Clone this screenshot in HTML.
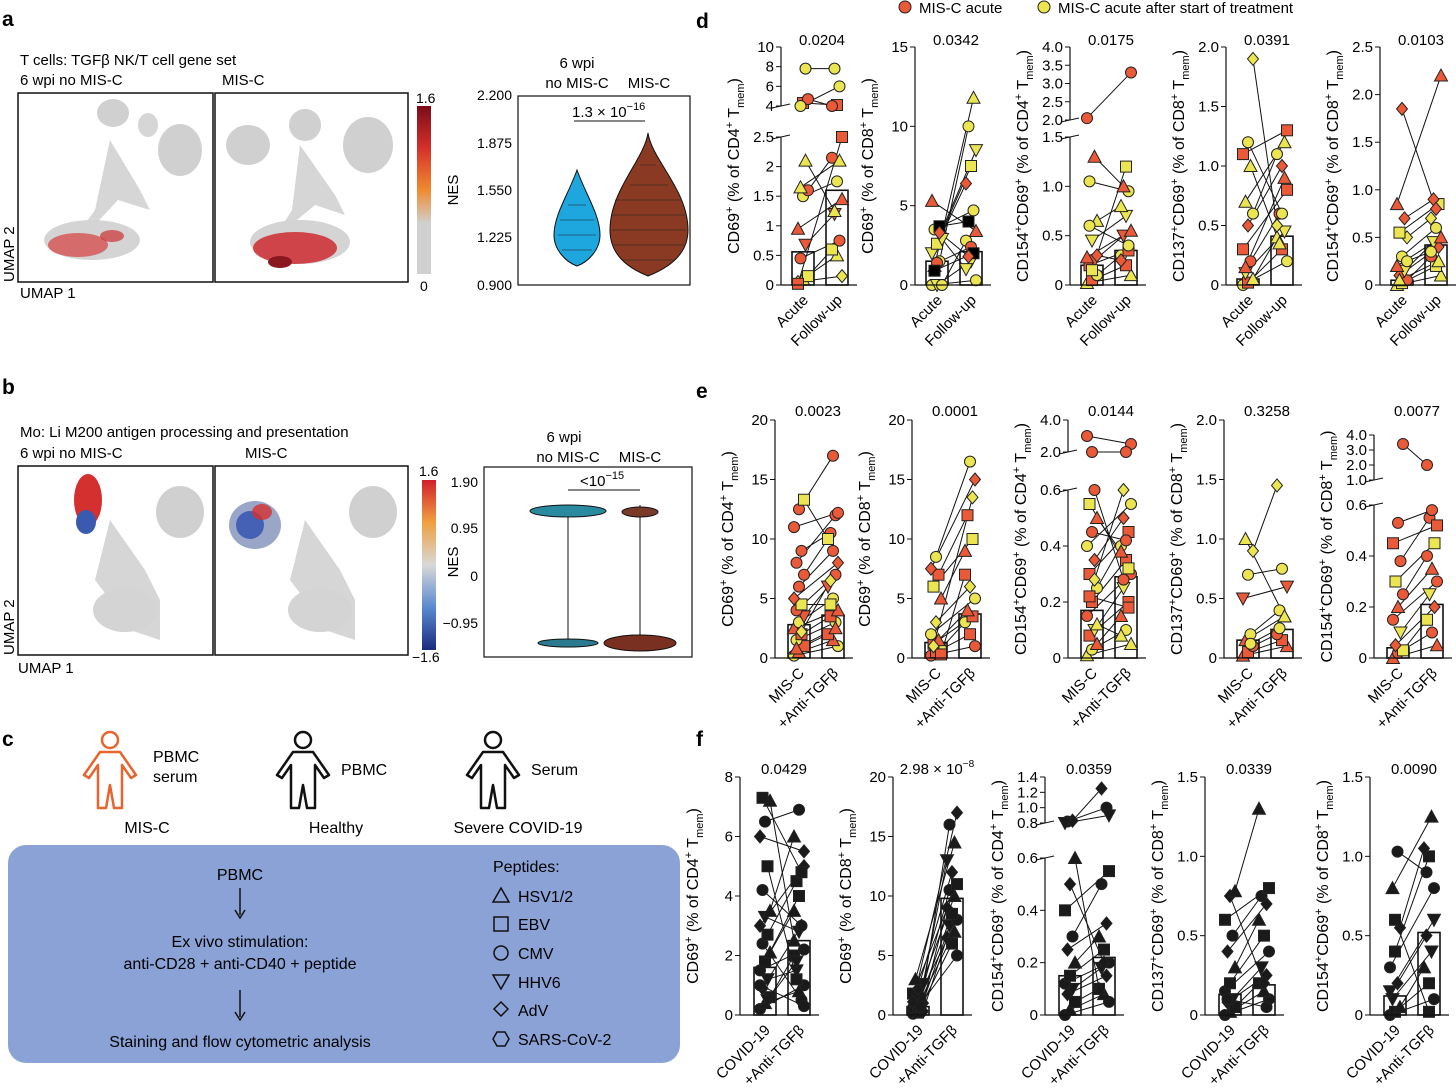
<!DOCTYPE html>
<html><head><meta charset="utf-8"><style>
html,body{margin:0;padding:0;background:#fff;}
svg{display:block;font-family:"Liberation Sans",Arial,sans-serif;}
</style></head><body>
<svg id="fig" width="1456" height="1091" viewBox="0 0 1456 1091" xmlns="http://www.w3.org/2000/svg">
<g id="static">
<text x="2" y="26" font-size="21" font-weight="bold">a</text>
<text x="2" y="394" font-size="21" font-weight="bold">b</text>
<text x="2" y="746" font-size="21" font-weight="bold">c</text>
<text x="696" y="28" font-size="21" font-weight="bold">d</text>
<text x="696" y="398" font-size="21" font-weight="bold">e</text>
<text x="696" y="746" font-size="21" font-weight="bold">f</text>

<g font-size="15">
<circle cx="905" cy="7" r="6" fill="#ea5a38" stroke="#222"/>
<text x="919" y="13">MIS-C acute</text>
<circle cx="1044" cy="7" r="6" fill="#ece552" stroke="#222"/>
<text x="1058" y="13">MIS-C acute after start of treatment</text>
</g>

<text x="20" y="65" font-size="15">T cells: TGFβ NK/T cell gene set</text>
<text x="20" y="85" font-size="15">6 wpi no MIS-C</text>
<text x="222" y="85" font-size="15">MIS-C</text>
<g>
<rect x="18" y="93" width="195" height="189" fill="#fff" stroke="#111" stroke-width="1.5"/>
<ellipse cx="113" cy="113" rx="16" ry="14" fill="#d0d0d0"/>
<ellipse cx="180" cy="150" rx="22" ry="26" fill="#d0d0d0"/>
<ellipse cx="148" cy="125" rx="10" ry="12" fill="#d6d6d6"/>
<path d="M110 140 L140 190 L150 210 L118 200 L90 230 L70 245 L95 210 Z" fill="#d6d6d6"/>
<ellipse cx="92" cy="240" rx="48" ry="20" fill="#d4d4d4"/>
<ellipse cx="78" cy="245" rx="30" ry="12" fill="#d45050" opacity="0.8"/>
<ellipse cx="112" cy="236" rx="12" ry="6" fill="#cc3030" opacity="0.7"/>
</g>
<g>
<rect x="215" y="93" width="193" height="189" fill="#fff" stroke="#111" stroke-width="1.5"/>
<ellipse cx="248" cy="145" rx="22" ry="20" fill="#d0d0d0"/>
<ellipse cx="305" cy="125" rx="16" ry="16" fill="#d0d0d0"/>
<ellipse cx="368" cy="145" rx="25" ry="28" fill="#d0d0d0"/>
<path d="M300 145 L335 195 L345 215 L315 205 L285 230 L270 245 L292 210 Z" fill="#d6d6d6"/>
<ellipse cx="300" cy="242" rx="50" ry="22" fill="#d4d4d4"/>
<ellipse cx="295" cy="248" rx="42" ry="16" fill="#cc2a30" opacity="0.85"/>
<ellipse cx="280" cy="262" rx="12" ry="6" fill="#8a1620"/>
</g>
<text x="14" y="282" font-size="15" transform="rotate(-90 14 282)">UMAP 2</text>
<text x="20" y="298" font-size="15">UMAP 1</text>
<defs>
<linearGradient id="cbA" x1="0" y1="0" x2="0" y2="1">
<stop offset="0" stop-color="#7a0c1a"/><stop offset="0.25" stop-color="#d6302a"/><stop offset="0.5" stop-color="#f08a30"/><stop offset="0.7" stop-color="#d0d0d0"/><stop offset="1" stop-color="#d0d0d0"/>
</linearGradient>
<linearGradient id="cbB" x1="0" y1="0" x2="0" y2="1">
<stop offset="0" stop-color="#d0202a"/><stop offset="0.25" stop-color="#f0a040"/><stop offset="0.5" stop-color="#d8d8d8"/><stop offset="0.75" stop-color="#5a8ad0"/><stop offset="1" stop-color="#1a2a80"/>
</linearGradient>
</defs>
<rect x="417" y="106" width="14" height="168" fill="url(#cbA)"/>
<text x="416" y="103" font-size="14">1.6</text>
<text x="420" y="291" font-size="14">0</text>

<g font-size="14">
<text x="577" y="68" font-size="15" text-anchor="middle">6 wpi</text>
<text x="577" y="88" font-size="15" text-anchor="middle">no MIS-C</text>
<text x="649" y="88" font-size="15" text-anchor="middle">MIS-C</text>
<rect x="518" y="96" width="172" height="189" fill="none" stroke="#111" stroke-width="1.2"/>
<text x="512" y="100" text-anchor="end">2.200</text>
<text x="512" y="148" text-anchor="end">1.875</text>
<text x="512" y="195" text-anchor="end">1.550</text>
<text x="512" y="242" text-anchor="end">1.225</text>
<text x="512" y="290" text-anchor="end">0.900</text>
<text x="458" y="190" font-size="15" transform="rotate(-90 458 190)" text-anchor="middle">NES</text>
<line x1="574" y1="121" x2="645" y2="121" stroke="#111"/>
<text x="572" y="117" font-size="15">1.3 × 10<tspan font-size="11" dy="-7">−16</tspan></text>
<path d="M577 170 C586 195 600 215 600 235 C600 250 588 262 577 266 C566 262 554 250 554 235 C554 215 568 195 577 170 Z" fill="#1ea6df" stroke="#111"/>
<path d="M648 133 C652 160 688 190 688 230 C688 255 668 268 648 276 C628 268 610 255 610 230 C610 190 644 160 648 133 Z" fill="#8a3a22" stroke="#111"/>
<g stroke="#222" stroke-width="0.7" opacity="0.7">
<line x1="560" y1="220" x2="594" y2="220"/><line x1="558" y1="235" x2="596" y2="235"/><line x1="562" y1="250" x2="592" y2="250"/><line x1="568" y1="205" x2="586" y2="205"/>
<line x1="615" y1="200" x2="682" y2="200"/><line x1="612" y1="215" x2="685" y2="215"/><line x1="612" y1="230" x2="686" y2="230"/><line x1="614" y1="245" x2="684" y2="245"/><line x1="622" y1="260" x2="675" y2="260"/><line x1="630" y1="185" x2="668" y2="185"/><line x1="640" y1="165" x2="656" y2="165"/>
</g>
</g>

<text x="20" y="437" font-size="15">Mo: Li M200 antigen processing and presentation</text>
<text x="20" y="458" font-size="15">6 wpi no MIS-C</text>
<text x="245" y="458" font-size="15">MIS-C</text>
<g>
<rect x="18" y="466" width="195" height="189" fill="#fff" stroke="#111" stroke-width="1.5"/>
<ellipse cx="180" cy="512" rx="24" ry="26" fill="#d0d0d0"/>
<path d="M110 520 L145 570 L160 600 L160 640 L130 630 L110 600 L95 580 Z" fill="#d6d6d6"/>
<ellipse cx="125" cy="610" rx="32" ry="22" fill="#d4d4d4"/>
<ellipse cx="88" cy="500" rx="14" ry="26" fill="#d43030"/>
<ellipse cx="86" cy="522" rx="10" ry="12" fill="#3a5ab0"/>
</g>
<g>
<rect x="215" y="466" width="193" height="189" fill="#fff" stroke="#111" stroke-width="1.5"/>
<ellipse cx="373" cy="512" rx="24" ry="26" fill="#d0d0d0"/>
<path d="M305 520 L340 570 L355 600 L355 640 L325 630 L305 600 L290 580 Z" fill="#d6d6d6"/>
<ellipse cx="320" cy="610" rx="32" ry="22" fill="#d4d4d4"/>
<ellipse cx="255" cy="525" rx="26" ry="24" fill="#9aa6c8"/>
<ellipse cx="250" cy="525" rx="14" ry="14" fill="#3050b0" opacity="0.8"/>
<ellipse cx="262" cy="512" rx="10" ry="8" fill="#d43030" opacity="0.8"/>
</g>
<text x="14" y="655" font-size="15" transform="rotate(-90 14 655)">UMAP 2</text>
<text x="18" y="673" font-size="15">UMAP 1</text>
<rect x="422" y="480" width="14" height="170" fill="url(#cbB)"/>
<text x="419" y="476" font-size="14">1.6</text>
<text x="412" y="662" font-size="14">−1.6</text>

<g font-size="14">
<text x="564" y="442" font-size="15" text-anchor="middle">6 wpi</text>
<text x="568" y="462" font-size="15" text-anchor="middle">no MIS-C</text>
<text x="640" y="462" font-size="15" text-anchor="middle">MIS-C</text>
<rect x="484" y="467" width="208" height="190" fill="none" stroke="#111" stroke-width="1.2"/>
<text x="478" y="487" text-anchor="end">1.90</text>
<text x="478" y="533" text-anchor="end">0.95</text>
<text x="478" y="581" text-anchor="end">0</text>
<text x="478" y="628" text-anchor="end">−0.95</text>
<text x="458" y="562" font-size="15" transform="rotate(-90 458 562)" text-anchor="middle">NES</text>
<line x1="568" y1="490" x2="640" y2="490" stroke="#111"/>
<text x="580" y="486" font-size="15">&lt;10<tspan font-size="11" dy="-7">−15</tspan></text>
<line x1="568" y1="505" x2="568" y2="645" stroke="#111"/>
<line x1="640" y1="505" x2="640" y2="645" stroke="#111"/>
<ellipse cx="568" cy="511" rx="38" ry="6" fill="#2a8aa0" stroke="#111"/>
<ellipse cx="640" cy="512" rx="18" ry="5" fill="#7a3a2a" stroke="#111"/>
<ellipse cx="568" cy="643" rx="30" ry="4" fill="#2a7a90" stroke="#111"/>
<ellipse cx="640" cy="643" rx="36" ry="8" fill="#7a3020" stroke="#111"/>
</g>

<g font-size="16">
<g fill="none" stroke="#e8642e" stroke-width="2.5" stroke-linejoin="round">
<circle cx="110" cy="740" r="8"/>
<path d="M100 752 L120 752 L136 775 L131 778 L122 765 L122 808 L114 808 L110 785 L106 808 L98 808 L98 765 L89 778 L84 775 Z"/></g>
<g fill="none" stroke="#111" stroke-width="2.5" stroke-linejoin="round">
<circle cx="303" cy="740" r="8"/>
<path d="M293 752 L313 752 L329 775 L324 778 L315 765 L315 808 L307 808 L303 785 L299 808 L291 808 L291 765 L282 778 L277 775 Z"/></g>
<g fill="none" stroke="#111" stroke-width="2.5" stroke-linejoin="round">
<circle cx="493" cy="740" r="8"/>
<path d="M483 752 L503 752 L519 775 L514 778 L505 765 L505 808 L497 808 L493 785 L489 808 L481 808 L481 765 L472 778 L467 775 Z"/></g>
<text x="153" y="762">PBMC</text><text x="153" y="782">serum</text>
<text x="341" y="775">PBMC</text>
<text x="531" y="775">Serum</text>
<text x="147" y="833" text-anchor="middle">MIS-C</text>
<text x="336" y="833" text-anchor="middle">Healthy</text>
<text x="518" y="833" text-anchor="middle">Severe COVID-19</text>
<rect x="8" y="845" width="672" height="218" rx="18" fill="#8aa2d6"/>
<text x="240" y="880" text-anchor="middle">PBMC</text>
<line x1="240" y1="888" x2="240" y2="915" stroke="#111" stroke-width="1.5"/><path d="M235 910 L240 918 L245 910" fill="none" stroke="#111" stroke-width="1.5"/>
<text x="240" y="947" text-anchor="middle">Ex vivo stimulation:</text>
<text x="240" y="969" text-anchor="middle">anti-CD28 + anti-CD40 + peptide</text>
<line x1="240" y1="990" x2="240" y2="1017" stroke="#111" stroke-width="1.5"/><path d="M235 1012 L240 1020 L245 1012" fill="none" stroke="#111" stroke-width="1.5"/>
<text x="240" y="1047" text-anchor="middle">Staining and flow cytometric analysis</text>
<text x="493" y="872">Peptides:</text>
<path d="M501 888 L509 902 L493 902 Z" fill="none" stroke="#111" stroke-width="1.5"/><text x="518" y="902">HSV1/2</text>
<rect x="494" y="917" width="14" height="14" fill="none" stroke="#111" stroke-width="1.5"/><text x="518" y="930">EBV</text>
<circle cx="501" cy="953" r="7" fill="none" stroke="#111" stroke-width="1.5"/><text x="518" y="959">CMV</text>
<path d="M493 975 L509 975 L501 989 Z" fill="none" stroke="#111" stroke-width="1.5"/><text x="518" y="988">HHV6</text>
<path d="M501 1002 L508 1009 L501 1016 L494 1009 Z" fill="none" stroke="#111" stroke-width="1.5"/><text x="518" y="1016">AdV</text>
<path d="M497 1032 L505 1032 L509 1039 L505 1046 L497 1046 L493 1039 Z" fill="none" stroke="#111" stroke-width="1.5"/><text x="518" y="1045">SARS-CoV-2</text>
</g>
</g>
<g id="plots"></g>
</svg>
<script>
const d1A=[0.05,0.1,0.15,0.45,0.68,0.95,1.5,1.6,1.65,2.1,0.02,4.3,4.7,3.2,7.8];
const d1B=[0.15,0.5,0.6,0.75,1.2,1.45,1.75,2.15,2.1,1.25,2.5,4.1,3.3,6.0,7.8];
const d1S="dtscvtccttssccc", d1C="yyyrrryryyrrryy", d1M=[0.56,1.6];
const d2A=[0,0,0,1.2,1.5,2.0,2.6,3.2,3.5,3.7,5.3,1.4,2.9,0.9,3.3];
const d2B=[0.3,1.5,2.8,11.8,10,8.5,7.5,6.4,4.7,4.0,3.4,2.4,1.0,2.0,1.8];
const d2S="cvctcvsdcstcvsd", d2C="yyyyyyyrytrrycr", d2M=[1.5,2.1];
const d3A=[0.02,0.05,0.1,0.2,0.25,0.28,0.45,0.65,1.05,1.3,2.05,0.15,0.3,0.6];
const d3B=[0.1,0.2,0.3,0.35,0.5,0.55,0.7,0.8,0.95,1.0,3.3,1.2,0.25,0.4];
const d3S="tscsvtvtctcsdc", d3C="yryrrryyyrryry", d3M=[0.2,0.35];
const d4A=[0,0.02,0.05,0.1,0.2,0.3,0.5,0.6,0.7,1.0,1.1,1.2,1.9,0.15];
const d4B=[0.2,0.3,0.4,0.45,0.6,0.8,1.0,1.1,1.2,0.35,1.3,0.6,0.5,0.9];
const d4S="cstvcsdcttscdt", d4C="yryyrrryyyryyr", d4M=[0.05,0.41];
const d5A=[0,0.02,0.05,0.1,0.15,0.2,0.3,0.5,0.55,0.7,0.85,1.85,0.25,0.05];
const d5B=[0.1,0.2,0.3,0.4,0.45,0.5,0.6,0.7,0.85,0.9,2.2,0.8,0.35,0.25];
const d5S="tscdvtcdsdtdct", d5C="yyrryryyyrrryy", d5M=[0.05,0.42];
const e1A=[0.2,0.5,1,1.5,2,2.5,3,3.5,4,4.5,5,6,7,8,9,11,12.5,13.3,0.8,2.2];
const e1B=[1,1.5,2,3,3.5,4,5,6,7,4.5,8,9,10,12,10.5,12.2,17,10,2.5,6.5];
const e1S="ctscstcvcsdccccccstd", e1C="yrryrryrryrrrrrrryry", e1M=[2.8,3.6];
const e2A=[0.2,0.5,0.8,1.2,1.5,2,3,5,6,7,7.5,8.5,0.3,1];
const e2B=[1,2,3,3.5,4,5,6,9,10,12,15,16.5,7,13.5];
const e2S="cscstcdtssdcsd", e2C="rryrryyryrryry", e2M=[1.3,3.7];
const e3A=[0.01,0.03,0.05,0.08,0.1,0.15,0.2,0.25,0.3,0.35,0.4,0.45,0.5,0.55,0.6,3.0,1.3,0.12,0.22,0.28];
const e3B=[0.05,0.1,0.15,0.2,0.25,0.3,0.35,0.4,0.45,0.5,0.55,0.42,0.38,0.32,0.28,2.5,1.35,0.08,0.18,0.6];
const e3S="tctsvcscsdcctsccctsd", e3C="yyrryrryrryrryrrryry", e3M=[0.17,0.29];
const e4A=[0.02,0.05,0.1,0.15,0.2,0.5,0.7,0.9,1.0,0.12];
const e4B=[0.1,0.15,0.2,0.35,0.4,0.6,0.75,1.45,0.35,0.25];
const e4S="tsctcvcdtc", e4C="rrrryryyyy", e4M=[0.15,0.24];
const e5A=[0,0.02,0.03,0.05,0.1,0.15,0.2,0.25,0.3,0.38,0.45,0.53,3.4];
const e5B=[0.05,0.1,0.15,0.2,0.25,0.3,0.35,0.4,0.45,0.55,0.52,0.58,2.0];
const e5S="tcsdvctcscscc", e5C="rryryrrryrrrr", e5M=[0.04,0.21];
const f1A=[0.2,0.4,0.6,0.9,1.2,1.5,1.8,2.1,2.4,2.7,3.0,3.3,3.5,4.2,5.0,6.0,6.5,7.2,7.3,0.5,1.0];
const f1B=[1.0,0.8,2.0,3.0,1.5,2.2,4.0,3.5,0.5,4.5,5.0,2.8,6.0,3.0,1.2,5.5,6.9,2.5,4.8,1.8,0.3];
const f1S="ctsdvcstcsdvtcsdctsvc", f1C="kkkkkkkkkkkkkkkkkkkkk", f1M=[1.6,2.5];
const f2A=[0.1,0.2,0.3,0.4,0.5,0.6,0.8,1.0,1.2,1.5,1.8,2.2,2.6,3.0,0.7,1.1];
const f2B=[5,6,6.5,7,7.5,8,8.5,9,10,10.5,11,12,13,14.5,16,17];
const f2S="csdtvcsdtcsdvtcd", f2C="kkkkkkkkkkkkkkkk", f2M=[0.7,9.8];
const f3A=[0,0.02,0.05,0.08,0.1,0.12,0.15,0.2,0.25,0.3,0.4,0.5,0.6,0.82,0.83,0.78];
const f3B=[0.05,0.08,0.1,0.15,0.18,0.2,0.25,0.3,0.35,0.5,0.55,0.2,0.1,1.0,1.25,0.9];
const f3S="ctsdvcstdcsdtcdv", f3C="kkkkkkkkkkkkkkkk", f3M=[0.15,0.22];
const f4A=[0,0.02,0.05,0.08,0.1,0.15,0.2,0.3,0.4,0.5,0.6,0.75,0.78,0.1];
const f4B=[0.1,0.15,0.2,0.25,0.3,0.4,0.5,0.6,0.7,0.75,0.8,0.2,1.3,0.05];
const f4S="ctsdvcstdcsdtc", f4C="kkkkkkkkkkkkkk", f4M=[0.13,0.19];
const f5A=[0,0.02,0.05,0.1,0.2,0.3,0.4,0.55,0.8,1.03,0.15,0.6];
const f5B=[0.1,0.2,0.3,0.4,0.5,0.8,1.0,1.05,1.25,0.9,0.6,0.02];
const f5S="cstvdcsdtcvs", f5C="kkkkkkkkkkkk", f5M=[0.12,0.52];
const dPvals=["0.0204","0.0342","0.0175","0.0391","0.0103"];
const ePvals=["0.0023","0.0001","0.0144","0.3258","0.0077"];
const fPvals=["0.0429","2.98 × 10<tspan font-size='10' dy='-7'>−8</tspan>","0.0359","0.0339","0.0090"];
const dXlab=["Acute","Follow-up"], eXlab=["MIS-C","+Anti-TGFβ"], fXlab=["COVID-19","+Anti-TGFβ"];
const tk1=[0,0.5,1,1.5,2,2.5,4,6,8,10], tk2=[0,5,10,15], tk3=[0,0.5,1,1.5,2,2.5,3,3.5,4], tk4=[0,0.5,1,1.5,2], tk5=[0,0.5,1,1.5,2,2.5];
const tkE1=[0,5,10,15,20], tkE3=[0,0.2,0.4,0.6,2,4], tkE5=[0,0.2,0.4,0.6,1,2,3,4];
const tkF1=[0,2,4,6,8], tkF2=[0,5,10,15,20], tkF3=[0,0.2,0.4,0.6,0.8,1,1.2,1.4], tkF4=[0,0.5,1,1.5];

const COL={r:"#ea5a38",y:"#ece552",k:"#1a1a1a"};
const NS="http://www.w3.org/2000/svg";
const root=document.getElementById('plots');
function el(tag,attrs,parent){const e=document.createElementNS(NS,tag);for(const k in attrs)e.setAttribute(k,attrs[k]);(parent||root).appendChild(e);return e;}
function fmt(v,dec){return dec?v.toFixed(dec):String(v);}
function sup(t){return "<tspan font-size='11' dy='-6'>"+t+"</tspan><tspan dy='6'>\u200b</tspan>";}
function sub(t){return "<tspan font-size='11' dy='5'>"+t+"</tspan><tspan dy='-5'>\u200b</tspan>";}
function ylab(a,b){return a+" (% of "+b+sup("+")+" T"+sub("mem")+")";}

function marker(g,shape,x,y,fill){
  const s=5.5, st={fill:fill,stroke:"#222","stroke-width":1};
  let m;
  if(shape==="c") m=el("circle",Object.assign({cx:x,cy:y,r:s},st),g);
  else if(shape==="s") m=el("rect",Object.assign({x:x-s,y:y-s,width:2*s,height:2*s},st),g);
  else if(shape==="t") m=el("path",Object.assign({d:`M${x} ${y-s-1}L${x+s+1} ${y+s}L${x-s-1} ${y+s}Z`},st),g);
  else if(shape==="v") m=el("path",Object.assign({d:`M${x-s-1} ${y-s}L${x+s+1} ${y-s}L${x} ${y+s+1}Z`},st),g);
  else if(shape==="d") m=el("path",Object.assign({d:`M${x} ${y-s-1}L${x+s} ${y}L${x} ${y+s+1}L${x-s} ${y}Z`},st),g);
  else m=el("path",Object.assign({d:`M${x-3} ${y-s}L${x+3} ${y-s}L${x+s} ${y}L${x+3} ${y+s}L${x-3} ${y+s}L${x-s} ${y}Z`},st),g);
  
  
}

function plot(name,ax,segs,ticks,dec,A,B,S,C,M,pv,yl,xl,o1,o2,ptop){
  const g=el("g",{});
  
  
  const y0=segs[0].p0;
  function Y(v){for(let i=0;i<segs.length;i++){const s=segs[i];if(v<=s.hi||i===segs.length-1){const vv=(i>0&&v<s.lo)?s.lo:v;return s.p0+(vv-s.lo)/(s.hi-s.lo)*(s.p1-s.p0);}}}
  const xa=ax+o1, xb=ax+o2;
  [[xa,M[0]],[xb,M[1]]].forEach((p,i)=>{const r=el("rect",{x:p[0]-11,y:Y(p[1]),width:22,height:y0-Y(p[1]),fill:"#fff",stroke:"#111","stroke-width":1.6},g);
    });
  for(let i=0;i<A.length;i++){const j=((i*7)%5-2)*2.5;el("line",{x1:xa+j,y1:Y(A[i]),x2:xb-j,y2:Y(B[i]),stroke:"#111","stroke-width":1},g);}
  for(let i=0;i<A.length;i++){const j=((i*7)%5-2)*2.5;marker(g,S[i],xa+j,Y(A[i]),COL[C[i]]);marker(g,S[i],xb-j,Y(B[i]),COL[C[i]]);}
  segs.forEach((s,i)=>{const l=el("line",{x1:ax,y1:s.p0,x2:ax,y2:s.p1,stroke:"#111","stroke-width":1.2},g);
    
    if(i>0){el("line",{x1:ax-9,y1:s.p0+2,x2:ax+9,y2:s.p0-2,stroke:"#111"},g);el("line",{x1:ax-9,y1:segs[i-1].p1+2,x2:ax+9,y2:segs[i-1].p1-2,stroke:"#111"},g);}});
  el("line",{x1:ax,y1:y0,x2:xb+20,y2:y0,stroke:"#111","stroke-width":1.2},g);
  ticks.forEach(v=>{const y=Y(v);el("line",{x1:ax-5,y1:y,x2:ax,y2:y,stroke:"#111"},g);
    const t=el("text",{x:ax-7,y:y+5,"font-size":15,"text-anchor":"end"},g);t.textContent=(v===0?"0":fmt(v,dec));
    });
  const tp=el("text",{x:(xa+xb)/2+2,y:ptop,"font-size":15,"text-anchor":"middle"},g);tp.innerHTML=pv;
  
  const ly=(y0+segs[segs.length-1].p1)/2, lx=ax-42;
  const yt=el("text",{x:lx,y:ly,"font-size":16,"text-anchor":"middle",transform:`rotate(-90 ${lx} ${ly})`},g);yt.innerHTML=yl;
  
  [xa,xb].forEach((x,i)=>{const t=el("text",{x:x+6,y:y0+16,"font-size":15,"text-anchor":"end",transform:`rotate(-45 ${x+6} ${y0+16})`},g);t.textContent=xl[i];
    });
}
const c4=ylab("CD69"+sup("+"),"CD4"), c8=ylab("CD69"+sup("+"),"CD8");
const b4=ylab("CD154"+sup("+")+"CD69"+sup("+"),"CD4"), b8=ylab("CD154"+sup("+")+"CD69"+sup("+"),"CD8"), k8=ylab("CD137"+sup("+")+"CD69"+sup("+"),"CD8");
plot("plot-d1",781,[{lo:0,hi:2.5,p0:285,p1:137},{lo:4,hi:10,p0:106,p1:47}],tk1,0,d1A,d1B,d1S,d1C,d1M,dPvals[0],c4,dXlab,22,56,45);
plot("plot-d2",915,[{lo:0,hi:15,p0:285,p1:47}],tk2,0,d2A,d2B,d2S,d2C,d2M,dPvals[1],c8,dXlab,22,56,45);
plot("plot-d3",1070,[{lo:0,hi:1.5,p0:285,p1:137},{lo:2,hi:4,p0:120,p1:47}],tk3,1,d3A,d3B,d3S,d3C,d3M,dPvals[2],b4,dXlab,22,56,45);
plot("plot-d4",1226,[{lo:0,hi:2,p0:285,p1:47}],tk4,1,d4A,d4B,d4S,d4C,d4M,dPvals[3],k8,dXlab,22,56,45);
plot("plot-d5",1380,[{lo:0,hi:2.5,p0:285,p1:47}],tk5,1,d5A,d5B,d5S,d5C,d5M,dPvals[4],b8,dXlab,22,56,45);
plot("plot-e1",775,[{lo:0,hi:20,p0:658,p1:420}],tkE1,0,e1A,e1B,e1S,e1C,e1M,ePvals[0],c4,eXlab,24,58,416);
plot("plot-e2",912,[{lo:0,hi:20,p0:658,p1:420}],tkE1,0,e2A,e2B,e2S,e2C,e2M,ePvals[1],c8,eXlab,24,58,416);
plot("plot-e3",1068,[{lo:0,hi:0.6,p0:658,p1:490},{lo:2,hi:4,p0:452,p1:420}],tkE3,1,e3A,e3B,e3S,e3C,e3M,ePvals[2],b4,eXlab,24,58,416);
plot("plot-e4",1224,[{lo:0,hi:2,p0:658,p1:420}],tk4,1,e4A,e4B,e4S,e4C,e4M,ePvals[3],k8,eXlab,24,58,416);
plot("plot-e5",1374,[{lo:0,hi:0.6,p0:658,p1:505},{lo:1,hi:4,p0:480,p1:435}],tkE5,1,e5A,e5B,e5S,e5C,e5M,ePvals[4],b8,eXlab,24,58,416);
plot("plot-f1",740,[{lo:0,hi:8,p0:1015,p1:777}],tkF1,0,f1A,f1B,f1S,f1C,f1M,fPvals[0],c4,fXlab,25,59,774);
plot("plot-f2",893,[{lo:0,hi:20,p0:1015,p1:777}],tkF2,0,f2A,f2B,f2S,f2C,f2M,fPvals[1],c8,fXlab,25,59,774);
plot("plot-f3",1045,[{lo:0,hi:0.6,p0:1015,p1:858},{lo:0.8,hi:1.4,p0:823,p1:777}],tkF3,1,f3A,f3B,f3S,f3C,f3M,fPvals[2],b4,fXlab,25,59,774);
plot("plot-f4",1205,[{lo:0,hi:1.5,p0:1015,p1:777}],tkF4,1,f4A,f4B,f4S,f4C,f4M,fPvals[3],k8,fXlab,25,59,774);
plot("plot-f5",1370,[{lo:0,hi:1.5,p0:1015,p1:777}],tkF4,1,f5A,f5B,f5S,f5C,f5M,fPvals[4],b8,fXlab,25,59,774);
</script>
</body></html>
